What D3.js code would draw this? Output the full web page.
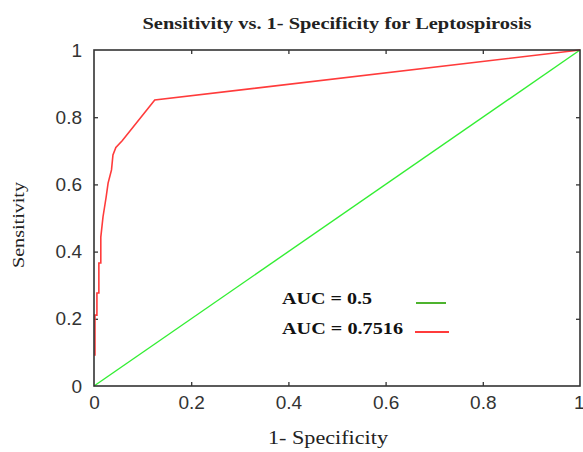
<!DOCTYPE html>
<html><head><meta charset="utf-8">
<script src="https://cdn.jsdelivr.net/npm/d3@7"></script>
<style>body{margin:0;background:#fff}svg{display:block}</style>
</head><body>
<svg id="c" width="583" height="452"></svg>
<script>
const title = "Sensitivity vs. 1- Specificity for Leptospirosis";
const xLabel = "1- Specificity";
const yLabel = "Sensitivity";
const tickValues = [0, 0.2, 0.4, 0.6, 0.8, 1];
const tickLabels = ["0", "0.2", "0.4", "0.6", "0.8", "1"];
const diagFpr = [0, 1];
const diagTpr = [0, 1];
const rocFpr = [0.002,0.002,0.006,0.006,0.010,0.010,0.014,0.014,0.0185,0.025,0.029,0.036,0.039,0.045,0.058,0.125,1];
const rocTpr = [0.09,0.211,0.211,0.277,0.277,0.366,0.366,0.443,0.503,0.5625,0.604,0.643,0.6875,0.71,0.73,0.851,1];
const legendLabels = ["AUC = 0.5", "AUC = 0.7516"];
const legendColors = ["#4db32e", "#ff3b3b"];

(function(){
const svg = d3.select("#c");
const L = 94, R = 580, T = 50, B = 386;
const x = d3.scaleLinear().domain([0,1]).range([L,R]);
const y = d3.scaleLinear().domain([0,1]).range([B,T]);
const axisCol = "#333";
const tickFmt = (d,i) => tickLabels[i];

function styleAxis(g){
  g.select(".domain").remove();
  g.selectAll("line").attr("stroke", axisCol).attr("stroke-width",1.3);
  g.selectAll("text").attr("fill","#333").style("font-family","Liberation Sans, Arial, sans-serif").style("font-size","19px");
}
const gBottom = svg.append("g").attr("transform",`translate(0,${B})`)
  .call(d3.axisBottom(x).tickValues(tickValues).tickFormat(tickFmt).tickSizeInner(-4).tickSizeOuter(0).tickPadding(10));
styleAxis(gBottom);
gBottom.selectAll("line").filter((d)=>d===0||d===1).remove();
gBottom.selectAll("text").filter((d)=>d===1).attr("text-anchor","end").attr("dx","4");
const gLeft = svg.append("g").attr("transform",`translate(${L},0)`)
  .call(d3.axisLeft(y).tickValues(tickValues).tickFormat(tickFmt).tickSizeInner(-4).tickSizeOuter(0).tickPadding(12));
styleAxis(gLeft);
gLeft.selectAll("line").filter((d)=>d===0||d===1).remove();
const gTop = svg.append("g").attr("transform",`translate(0,${T})`)
  .call(d3.axisTop(x).tickValues(tickValues.slice(1,-1)).tickFormat("").tickSizeInner(-4).tickSizeOuter(0));
styleAxis(gTop);
const gRight = svg.append("g").attr("transform",`translate(${R},0)`)
  .call(d3.axisRight(y).tickValues(tickValues.slice(1,-1)).tickFormat("").tickSizeInner(-4).tickSizeOuter(0));
styleAxis(gRight);

const line = d3.line().x(d=>x(d[0])).y(d=>y(d[1]));
svg.append("path").datum(diagFpr.map((v,i)=>[v,diagTpr[i]]))
  .attr("d",line).attr("fill","none").attr("stroke","#33ee33").attr("stroke-width",1.4);
svg.append("path").datum(rocFpr.map((v,i)=>[v,rocTpr[i]]))
  .attr("d",line).attr("fill","none").attr("stroke","#ff3b3b").attr("stroke-width",1.6);

svg.append("rect").attr("x",L).attr("y",T).attr("width",R-L).attr("height",B-T)
  .attr("fill","none").attr("stroke",axisCol).attr("stroke-width",1.6);

const serif = "Liberation Serif, Times New Roman, serif";
svg.append("text").attr("x",(L+R)/2).attr("y",29).attr("text-anchor","middle")
  .style("font-family",serif).style("font-weight","bold").style("font-size","17px").attr("fill","#222")
  .attr("textLength",389).attr("lengthAdjust","spacingAndGlyphs").text(title);
svg.append("text").attr("x",328).attr("y",444).attr("text-anchor","middle")
  .style("font-family",serif).style("font-size","18px").attr("fill","#222")
  .attr("textLength",120).attr("lengthAdjust","spacingAndGlyphs").text(xLabel);
svg.append("text").attr("transform","translate(24,225) rotate(-90)").attr("text-anchor","middle")
  .style("font-family",serif).style("font-size","16px").attr("fill","#222")
  .attr("textLength",86).attr("lengthAdjust","spacingAndGlyphs").text(yLabel);

const legY = [304, 334];
const lg = svg.append("g");
legendLabels.forEach((t,i)=>{
  lg.append("text").attr("x",282).attr("y",legY[i])
    .style("font-family",serif).style("font-weight","bold").style("font-size","17px").attr("fill","#111")
    .attr("textLength", i===0?90:121).attr("lengthAdjust","spacingAndGlyphs").text(t);
  lg.append("line").attr("x1",i===0?416:415).attr("x2",i===0?446:449)
    .attr("y1",legY[i]-2+(i===0?1:0)).attr("y2",legY[i]-2+(i===0?1:0))
    .attr("stroke",legendColors[i]).attr("stroke-width",2);
});
})();
</script>
</body></html>
